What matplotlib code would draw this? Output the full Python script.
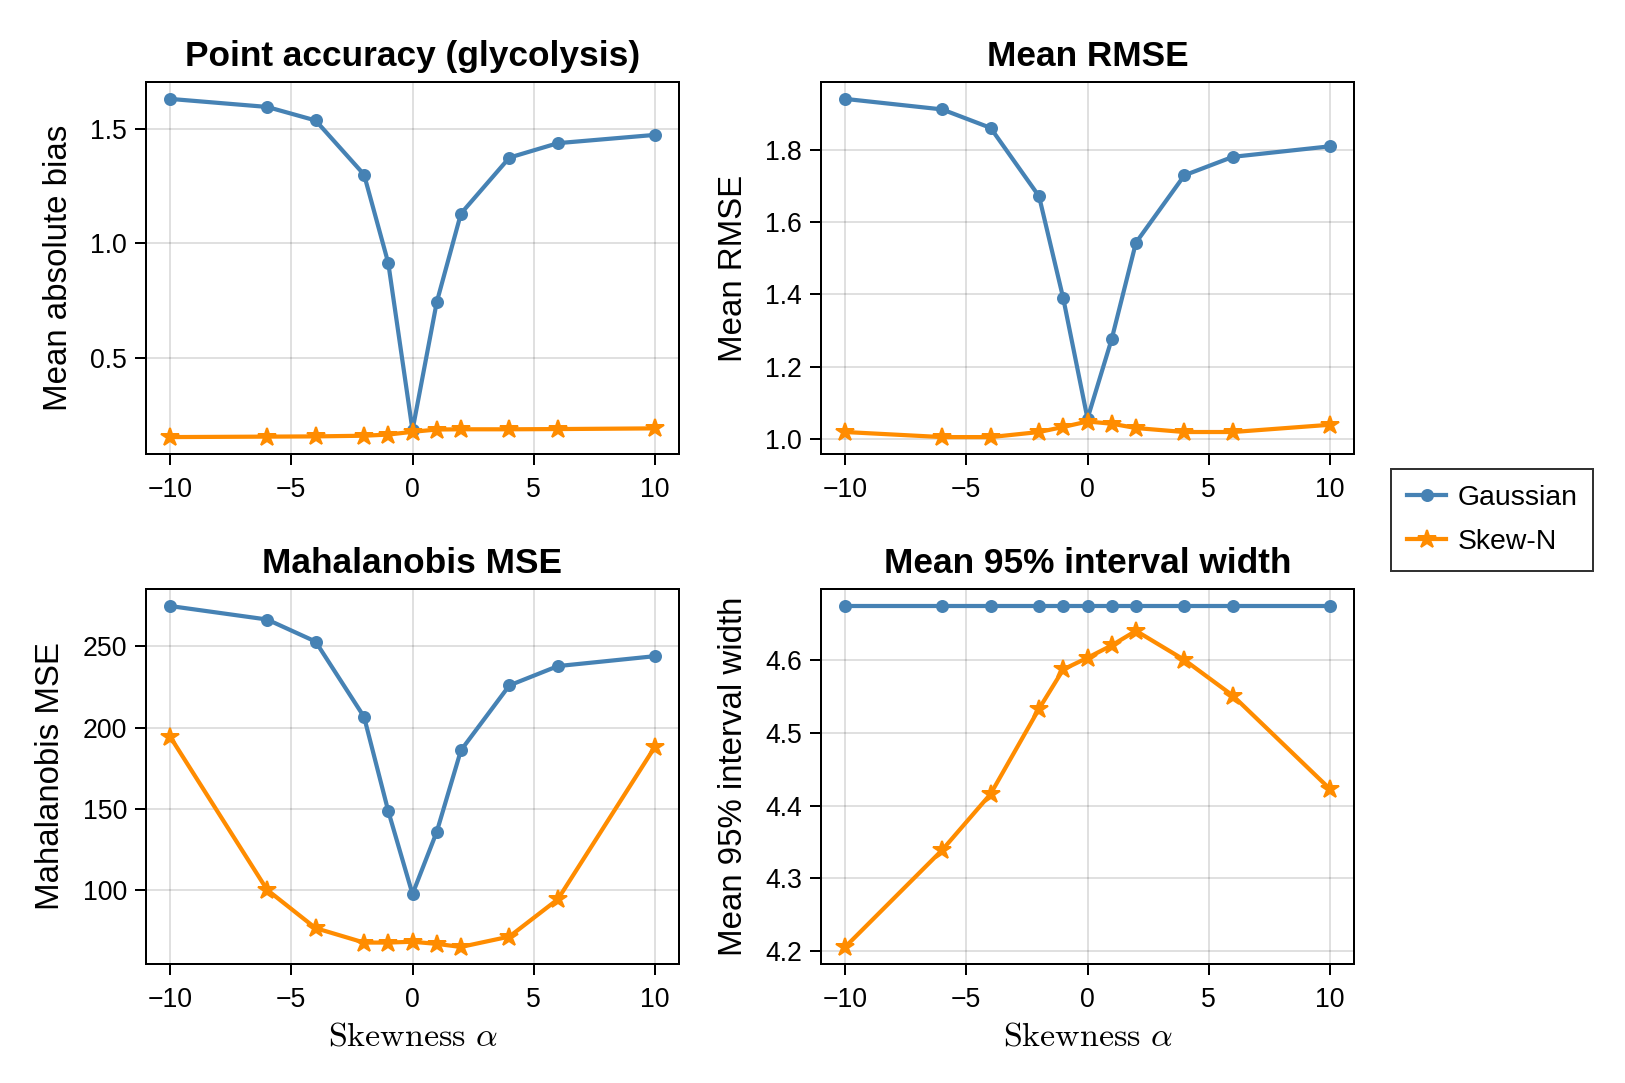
import numpy as np
import matplotlib
matplotlib.use('Agg')
import matplotlib.pyplot as plt

plt.rcParams['font.family'] = ['Liberation Sans', 'DejaVu Sans']
plt.rcParams['mathtext.fontset'] = 'cm'

# skewness values used in the simulation
alpha = [-10, -6, -4, -2, -1, 0, 1, 2, 4, 6, 10]

# point accuracy (mean absolute bias)
bias_gauss = [1.63, 1.595, 1.536, 1.30, 0.914, 0.185, 0.743, 1.13, 1.374, 1.437, 1.473]
bias_skew = [0.155, 0.157, 0.158, 0.161, 0.166, 0.178, 0.188, 0.189, 0.189, 0.190, 0.193]

# mean RMSE
rmse_gauss = [1.940, 1.911, 1.860, 1.671, 1.389, 1.057, 1.277, 1.543, 1.729, 1.780, 1.809]
rmse_skew = [1.020, 1.006, 1.006, 1.020, 1.034, 1.049, 1.043, 1.031, 1.020, 1.020, 1.040]

# Mahalanobis MSE
maha_gauss = [274.9, 266.6, 253.0, 206.6, 148.5, 97.4, 135.7, 186.0, 226.0, 237.9, 244.0]
maha_skew = [194.3, 100.0, 76.4, 67.5, 67.5, 68.0, 66.7, 64.8, 71.2, 94.2, 188.0]

# mean 95% interval width
width_gauss = [4.674] * 11
width_skew = [4.206, 4.339, 4.416, 4.533, 4.587, 4.603, 4.620, 4.640, 4.600, 4.551, 4.423]

panels = [
    ('Point accuracy (glycolysis)', 'Mean absolute bias', bias_gauss, bias_skew, [0.5, 1.0, 1.5], '{:.1f}'),
    ('Mean RMSE', 'Mean RMSE', rmse_gauss, rmse_skew, [1.0, 1.2, 1.4, 1.6, 1.8], '{:.1f}'),
    ('Mahalanobis MSE', 'Mahalanobis MSE', maha_gauss, maha_skew, [100, 150, 200, 250], '{:.0f}'),
    ('Mean 95% interval width', 'Mean 95% interval width', width_gauss, width_skew,
     [4.2, 4.3, 4.4, 4.5, 4.6], '{:.1f}'),
]

W, H = 1625, 1083
dpi = 144
fig = plt.figure(figsize=(W / dpi, H / dpi), dpi=dpi)

# axes boxes in pixels: left, top, right, bottom
boxes = [(146, 82, 679, 454), (821, 82, 1354, 454),
         (146, 589, 679, 964), (821, 589, 1354, 964)]

c_gauss = '#4682B4'
c_skew = '#FF8C00'

for i, (title, ylab, g, s, yt, fmt) in enumerate(panels):
    l, t, r, b = boxes[i]
    ax = fig.add_axes([l / W, 1 - b / H, (r - l) / W, (b - t) / H])
    ax.plot(alpha, g, color=c_gauss, lw=2.1, marker='o', ms=5.5, label='Gaussian')
    ax.plot(alpha, s, color=c_skew, lw=2.1, marker='*', ms=9.5, label='Skew-N')
    ax.set_xlim(-11, 11)
    ax.set_xticks([-10, -5, 0, 5, 10])
    ax.set_yticks(yt)
    ax.set_yticklabels([fmt.format(v) for v in yt])
    ax.grid(True, color='black', alpha=0.12, lw=1)
    ax.set_axisbelow(True)
    ax.tick_params(labelsize=13.3, length=5.5, width=1, direction='out', color='black', pad=4)
    ax.tick_params(axis='x', pad=6)
    for sp in ax.spines.values():
        sp.set_linewidth(1)
        sp.set_color('black')
    ax.set_title(title, fontsize=17.6, fontweight='bold', pad=8)
    ax.set_ylabel(ylab, fontsize=16.5, labelpad=8)
    if i >= 2:
        ax.set_xlabel(r'$\mathrm{Skewness}\ \alpha$', fontsize=17, labelpad=4)
    if i == 0:
        handles, labels = ax.get_legend_handles_labels()

leg = fig.legend(handles, labels, loc='center left', bbox_to_anchor=(1391 / W, 1 - 520 / H),
                 fontsize=14.2, frameon=True, fancybox=False, edgecolor='black',
                 handlelength=1.4, borderpad=0.55, labelspacing=0.65, borderaxespad=0,
                 handletextpad=0.4)
leg.get_frame().set_linewidth(1)

fig.savefig('out.png', dpi=dpi)
